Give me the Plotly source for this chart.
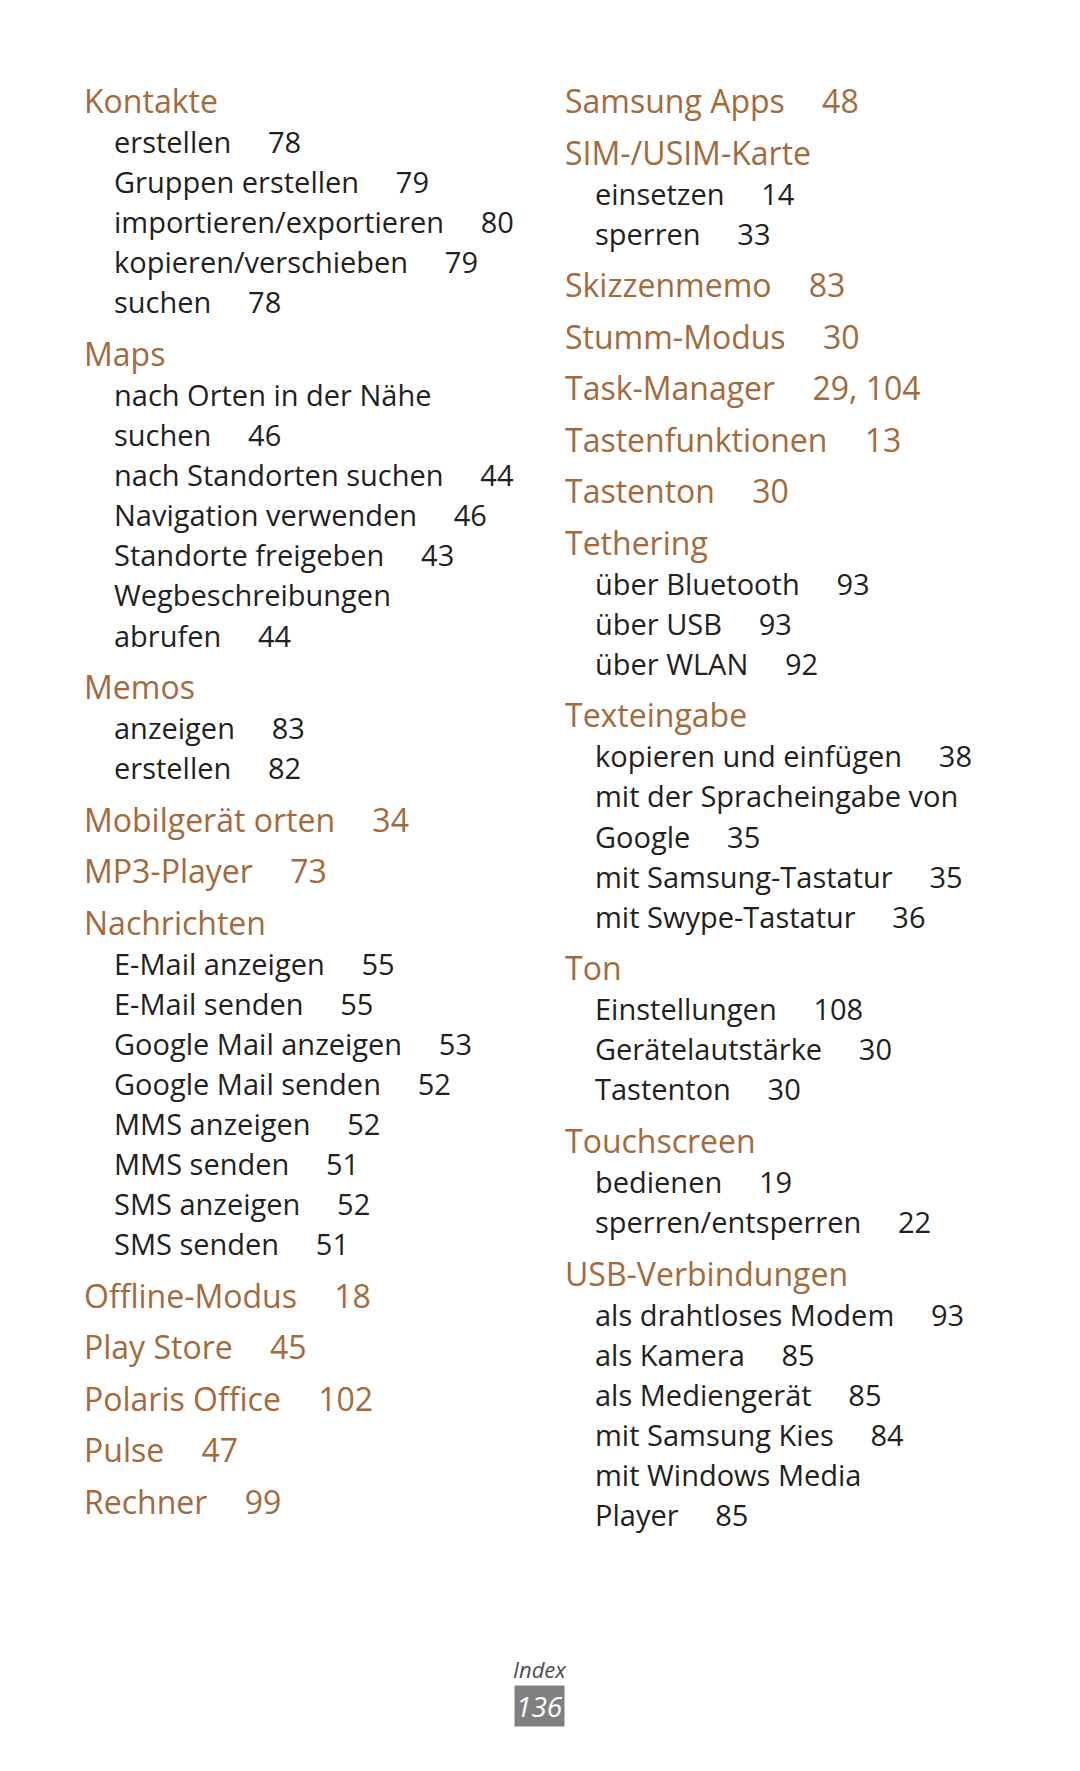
import plotly.graph_objects as go

# index page, two columns: level (h = heading, s = sub entry), label, page refs
left_levels = ["h", "s", "s", "s", "s", "s",
               "h", "s", "s", "s", "s", "s", "s", "s",
               "h", "s", "s",
               "h", "h", "h", "s", "s", "s", "s", "s", "s", "s", "s",
               "h", "h", "h", "h", "h"]
left_labels = ["Kontakte", "erstellen", "Gruppen erstellen", "importieren/exportieren",
               "kopieren/verschieben", "suchen",
               "Maps", "nach Orten in der Nähe", "suchen", "nach Standorten suchen",
               "Navigation verwenden", "Standorte freigeben", "Wegbeschreibungen", "abrufen",
               "Memos", "anzeigen", "erstellen",
               "Mobilgerät orten", "MP3-Player", "Nachrichten", "E-Mail anzeigen",
               "E-Mail senden", "Google Mail anzeigen", "Google Mail senden",
               "MMS anzeigen", "MMS senden", "SMS anzeigen", "SMS senden",
               "Offline-Modus", "Play Store", "Polaris Office", "Pulse", "Rechner"]
left_pages = ["", "78", "79", "80", "79", "78",
              "", "", "46", "44", "46", "43", "", "44",
              "", "83", "82",
              "34", "73", "", "55", "55", "53", "52", "52", "51", "52", "51",
              "18", "45", "102", "47", "99"]

right_levels = ["h", "h", "s", "s",
                "h", "h", "h", "h", "h",
                "h", "s", "s", "s",
                "h", "s", "s", "s", "s", "s",
                "h", "s", "s", "s",
                "h", "s", "s",
                "h", "s", "s", "s", "s", "s", "s"]
right_labels = ["Samsung Apps", "SIM-/USIM-Karte", "einsetzen", "sperren",
                "Skizzenmemo", "Stumm-Modus", "Task-Manager", "Tastenfunktionen", "Tastenton",
                "Tethering", "über Bluetooth", "über USB", "über WLAN",
                "Texteingabe", "kopieren und einfügen", "mit der Spracheingabe von",
                "Google", "mit Samsung-Tastatur", "mit Swype-Tastatur",
                "Ton", "Einstellungen", "Gerätelautstärke", "Tastenton",
                "Touchscreen", "bedienen", "sperren/entsperren",
                "USB-Verbindungen", "als drahtloses Modem", "als Kamera", "als Mediengerät",
                "mit Samsung Kies", "mit Windows Media", "Player"]
right_pages = ["48", "", "14", "33",
               "83", "30", "29, 104", "13", "30",
               "", "93", "93", "92",
               "", "38", "", "35", "35", "36",
               "", "108", "30", "30",
               "", "19", "22",
               "", "93", "85", "85", "84", "", "85"]

page_label = "Index"
page_number = "136"

HEAD = "#a5693a"
TEXT = "#231f20"
FONT = "Open Sans"


def line_positions(levels, y0):
    ys = []
    y = y0
    for i, lv in enumerate(levels):
        if i > 0:
            if lv == "h":
                y += 51.5
            elif levels[i - 1] == "h":
                y += 41
            else:
                y += 40.1
        ys.append(y)
    return ys


fig = go.Figure()
annotations = []


def add_column(levels, labels, pages, x_head, x_sub, y0):
    ys = line_positions(levels, y0)
    for lv, lab, pg, y in zip(levels, labels, pages, ys):
        if lv == "h":
            txt = lab + ("\u2003\u2009" + pg if pg else "")
            annotations.append(dict(x=x_head, y=y, text=txt, xanchor="left", yanchor="middle",
                                    showarrow=False, font=dict(family=FONT, size=32, color=HEAD)))
        else:
            txt = lab + ("\u2003\u2009\u200a" + pg if pg else "")
            annotations.append(dict(x=x_sub, y=y, text=txt, xanchor="left", yanchor="middle",
                                    showarrow=False, font=dict(family=FONT, size=29, color=TEXT)))


add_column(left_levels, left_labels, left_pages, 82, 112, 100.5)
add_column(right_levels, right_labels, right_pages, 563, 593, 100.5)

annotations.append(dict(x=540, y=1669, text="<i>" + page_label + "</i>", showarrow=False,
                        xanchor="center", yanchor="middle",
                        font=dict(family=FONT, size=22, color="#4d4d4f")))
annotations.append(dict(x=539, y=1706, text="<i>" + page_number + "</i>", showarrow=False,
                        xanchor="center", yanchor="middle", bgcolor="#808080", borderpad=1,
                        font=dict(family=FONT, size=28, color="white")))

# the page body has an 8px margin, so shift the axes to keep page pixel coordinates
fig.update_layout(
    width=1080, height=1771,
    margin=dict(l=0, r=0, t=0, b=0),
    paper_bgcolor="white", plot_bgcolor="white",
    xaxis=dict(range=[8, 1088], visible=False, fixedrange=True),
    yaxis=dict(range=[1779, 8], visible=False, fixedrange=True),
    annotations=annotations,
    showlegend=False,
)

fig.write_html("out.html")
